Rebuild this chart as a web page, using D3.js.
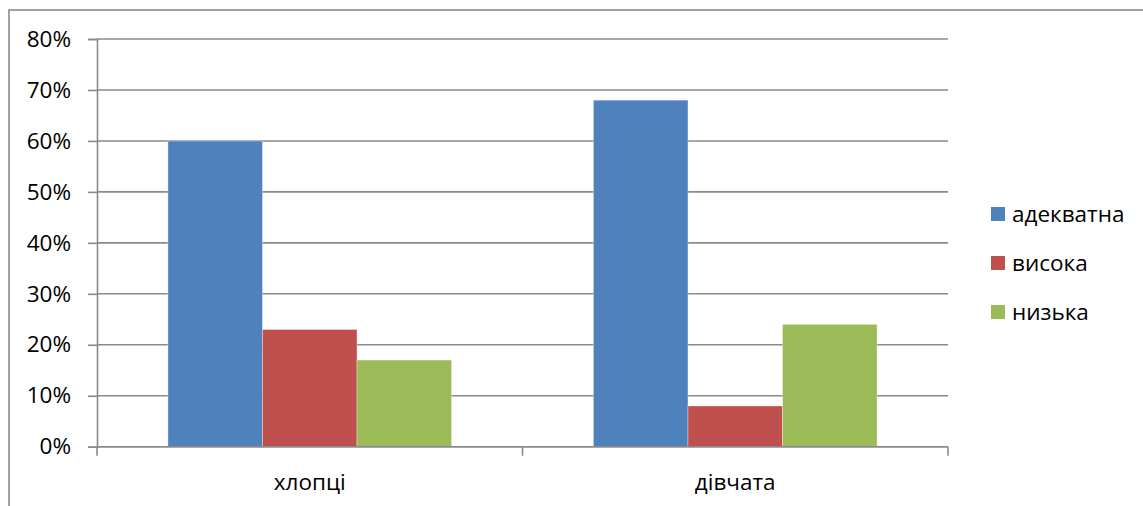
<!DOCTYPE html>
<html>
<head>
<meta charset="utf-8">
<script src="https://cdn.jsdelivr.net/npm/d3@7"></script>
<style>
  html, body { margin: 0; padding: 0; background: #fff; }
  svg { display: block; }
  text { font-family: "Open Sans", "Noto Sans", sans-serif; fill: #000; }
</style>
</head>
<body>
<svg id="chart" width="1143" height="506"></svg>
<script>
// Groups along the x axis
const categories = ["хлопці", "дівчата"];
// Series names (legend order)
const seriesNames = ["адекватна", "висока", "низька"];
// Values in percent, one array per series, in category order
const adekvatna = [60, 68];
const vysoka = [23, 8];
const nyzka = [17, 24];
const seriesValues = [adekvatna, vysoka, nyzka];
const seriesColors = ["#4F81BD", "#C0504D", "#9BBB59"];
// Y axis ticks
const yTicks = [0, 10, 20, 30, 40, 50, 60, 70, 80];

const svg = d3.select("#chart");
const plot = { left: 97, right: 948, top: 39, bottom: 446.7 };
const fontSize = 22.5;
const gridColor = "#8a8a8a";

// Outer chart frame (continues past the right and bottom edges)
svg.append("rect")
  .attr("x", 9).attr("y", 10)
  .attr("width", 1200).attr("height", 600)
  .attr("fill", "none")
  .attr("stroke", gridColor)
  .attr("stroke-width", 1.6);

const y = d3.scaleLinear().domain([0, 80]).range([plot.bottom, plot.top]);
const x0 = d3.scaleBand().domain(categories).range([plot.left, plot.right]).padding(0);
// Excel-style 150% gap: band = 3 bars + 1.5 bar widths
const barW = x0.bandwidth() / 4.5;
const x1 = d3.scaleBand().domain(seriesNames)
  .range([barW * 0.75, x0.bandwidth() - barW * 0.75]).padding(0);

// Horizontal gridlines
svg.append("g").selectAll("line")
  .data(yTicks)
  .join("line")
  .attr("x1", plot.left).attr("x2", plot.right)
  .attr("y1", d => y(d)).attr("y2", d => y(d))
  .attr("stroke", gridColor).attr("stroke-width", 1.6);

// Y axis with outward ticks
const yAxis = svg.append("g")
  .attr("transform", `translate(${plot.left},0)`)
  .call(d3.axisLeft(y).tickValues(yTicks).tickSize(9).tickPadding(17)
    .tickFormat(d => d + "%"));
yAxis.select(".domain").attr("stroke", gridColor).attr("stroke-width", 1.6);
yAxis.selectAll(".tick line").attr("stroke", gridColor).attr("stroke-width", 1.6);
yAxis.selectAll(".tick text")
  .style("font-family", "'Open Sans', 'Noto Sans', sans-serif")
  .attr("font-size", fontSize).attr("fill", "#000");
yAxis.attr("font-family", null).attr("font-size", null);

// Bars
const groups = svg.append("g").selectAll("g")
  .data(categories)
  .join("g")
  .attr("transform", d => `translate(${x0(d)},0)`);

groups.selectAll("rect")
  .data((c, ci) => seriesNames.map((s, si) => ({ s, si, v: seriesValues[si][ci] })))
  .join("rect")
  .attr("x", d => x1(d.s))
  .attr("width", x1.bandwidth())
  .attr("y", d => y(d.v))
  .attr("height", d => y(0) - y(d.v))
  .attr("fill", d => seriesColors[d.si])
  .attr("stroke", "rgba(255,255,255,0.35)")
  .attr("stroke-width", 1);

// X axis line with category boundary ticks
svg.append("line")
  .attr("x1", plot.left).attr("x2", plot.right)
  .attr("y1", y(0)).attr("y2", y(0))
  .attr("stroke", gridColor).attr("stroke-width", 1.6);
const boundaries = [plot.left, ...categories.map(c => x0(c) + x0.bandwidth())];
svg.append("g").selectAll("line")
  .data(boundaries)
  .join("line")
  .attr("x1", d => d).attr("x2", d => d)
  .attr("y1", y(0)).attr("y2", y(0) + 9)
  .attr("stroke", gridColor).attr("stroke-width", 1.6);

// Category labels
svg.append("g").selectAll("text")
  .data(categories)
  .join("text")
  .attr("x", d => x0(d) + x0.bandwidth() / 2)
  .attr("y", 490)
  .attr("text-anchor", "middle")
  .attr("font-size", fontSize)
  .text(d => d);

// Legend
const legend = svg.append("g").attr("transform", "translate(991,207)");
const items = legend.selectAll("g")
  .data(seriesNames)
  .join("g")
  .attr("transform", (d, i) => `translate(0,${i * 49})`);
items.append("rect")
  .attr("width", 14).attr("height", 14)
  .attr("fill", (d, i) => seriesColors[i]);
items.append("text")
  .attr("x", 21).attr("y", 14.5)
  .attr("font-size", fontSize)
  .text(d => d);
</script>
</body>
</html>
